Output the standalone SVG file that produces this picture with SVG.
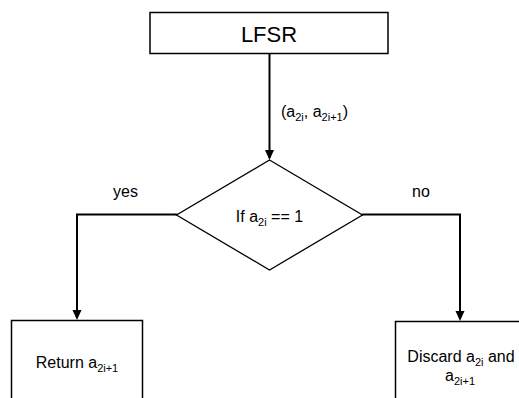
<svg xmlns="http://www.w3.org/2000/svg" width="519" height="398" viewBox="0 0 519 398">
<style>
.box{fill:#fff;stroke:#000;stroke-width:1.5}
.conn{fill:none;stroke:#000;stroke-width:2}
text{font-family:"Liberation Sans",Arial,sans-serif;font-size:16px;fill:#000}
.sub{font-size:11px}
</style>
<defs>
<marker id="arr" markerUnits="userSpaceOnUse" markerWidth="10" markerHeight="10" refX="8" refY="5" orient="auto">
<path d="M0,0.5 L10,5 L0,9.5 z" fill="#000"/>
</marker>
</defs>
<rect width="519" height="398" fill="#fff"/>
<g id="connectors">
<line class="conn" x1="269.5" y1="53" x2="269.5" y2="158" marker-end="url(#arr)"/>
<polyline class="conn" points="177,214.5 77,214.5 77,318" marker-end="url(#arr)"/>
<polyline class="conn" points="362,214.5 460,214.5 460,319" marker-end="url(#arr)"/>
<text x="281" y="117">(a<tspan class="sub" dy="4">2i</tspan><tspan dy="-4">, a</tspan><tspan class="sub" dy="4">2i+1</tspan><tspan dy="-4">)</tspan></text>
<text x="125.5" y="197" text-anchor="middle">yes</text>
<text x="421" y="197" text-anchor="middle">no</text>
</g>
<g id="lfsr">
<rect class="box" x="150" y="12.5" width="238" height="41"/>
<text x="269" y="42" text-anchor="middle" style="font-size:22px">LFSR</text>
</g>
<g id="decision">
<polygon class="box" points="269.5,160 362.5,215 269.5,270 176.5,215" style="stroke-width:1.3"/>
<text x="269.5" y="222" text-anchor="middle">If a<tspan class="sub" dy="4">2i</tspan><tspan dy="-4"> == 1</tspan></text>
</g>
<g id="return">
<rect class="box" x="11.5" y="320.5" width="131" height="90"/>
<text x="77" y="368" text-anchor="middle">Return a<tspan class="sub" dy="4">2i+1</tspan></text>
</g>
<g id="discard">
<rect class="box" x="395.5" y="321.5" width="130" height="90"/>
<text x="461" y="362" text-anchor="middle">Discard a<tspan class="sub" dy="4">2i</tspan><tspan dy="-4"> and</tspan></text>
<text x="460" y="381" text-anchor="middle">a<tspan class="sub" dy="4">2i+1</tspan></text>
</g>
</svg>
